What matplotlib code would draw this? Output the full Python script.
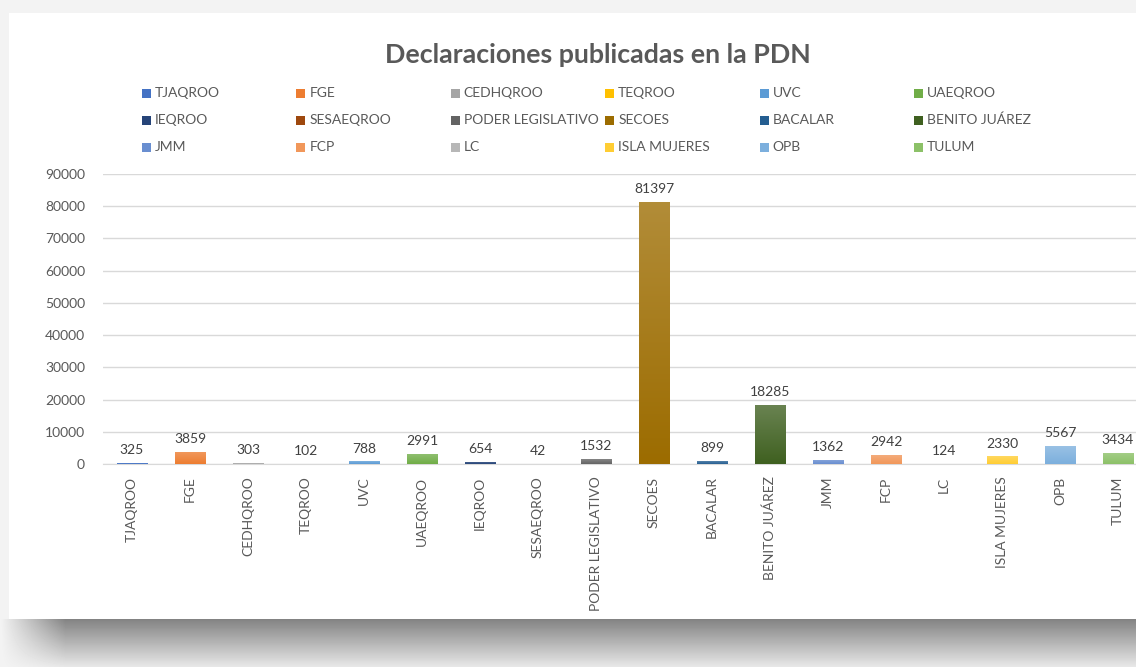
import matplotlib
matplotlib.use("Agg")
import matplotlib.pyplot as plt
import numpy as np
from matplotlib.patches import Rectangle
from matplotlib.colors import to_rgb

plt.rcParams['font.family'] = ['Lato', 'DejaVu Sans']

categories = ["TJAQROO", "FGE", "CEDHQROO", "TEQROO", "UVC", "UAEQROO",
              "IEQROO", "SESAEQROO", "PODER LEGISLATIVO", "SECOES", "BACALAR",
              "BENITO JUÁREZ", "JMM", "FCP", "LC", "ISLA MUJERES", "OPB", "TULUM"]
values = [325, 3859, 303, 102, 788, 2991, 654, 42, 1532, 81397, 899,
          18285, 1362, 2942, 124, 2330, 5567, 3434]
colors = ["#4472C4", "#ED7D31", "#A5A5A5", "#FFC000", "#5B9BD5", "#70AD47",
          "#264478", "#9E480E", "#636363", "#9C6C00", "#255E91", "#3F6020",
          "#698ED0", "#F1975A", "#B7B7B7", "#FFCD33", "#7CAFDD", "#8CC168"]
yticks = [0, 10000, 20000, 30000, 40000, 50000, 60000, 70000, 80000, 90000]
title = "Declaraciones publicadas en la PDN"

W, H = 1136, 667
fig = plt.figure(figsize=(W / 100, H / 100), dpi=100)
fig.patch.set_facecolor("#f3f3f3")

def fx(x):
    return x / W

def fy(y):
    return 1 - y / H

# bottom shadow band (vertical fade times a horizontal fade at the left)
sh = fig.add_axes([0, 0, 1, fy(619)])
sh.set_zorder(-2)
ny, nx = 48, W
tv = np.linspace(0.44, 0.05, ny).reshape(-1, 1)
sx = np.clip(np.arange(nx) / 65.0, 0, 1).reshape(1, -1)
dark = tv * sx
img = 0.955 - dark
sh.imshow(img, aspect='auto', cmap='gray', vmin=0, vmax=1,
          extent=[0, 1, 0, 1], origin='upper', interpolation='nearest')
sh.set_axis_off()

# white card
fig.patches.append(Rectangle((fx(9), fy(619)), 1.0, fy(13) - fy(619),
                             transform=fig.transFigure, facecolor="white",
                             edgecolor="none", zorder=-1))

ax = fig.add_axes([fx(103), fy(464), fx(1147) - fx(103), fy(174) - fy(464)])
ax.set_zorder(1)
ax.set_facecolor("none")
x = np.arange(len(categories))
bars = ax.bar(x, values, width=0.52, color=colors, zorder=3)

# vertical gradient fill on each bar (lighter at top)
for b, c in zip(bars, colors):
    base = np.array(to_rgb(c))
    top = base + (1 - base) * 0.22
    t = np.linspace(0, 1, 64).reshape(-1, 1, 1)
    grad = top * (1 - t) + base * t
    im = ax.imshow(grad, extent=[b.get_x(), b.get_x() + b.get_width(),
                                 0, b.get_height()],
                   aspect='auto', origin='upper', zorder=3.5,
                   interpolation='bilinear')
    im.set_clip_path(b)

ax.bar_label(bars, labels=[str(v) for v in values], padding=5,
             fontsize=10, color="#404040")
ax.set_xlim(-0.5, len(categories) - 0.5)
ax.set_ylim(0, 90000)
ax.set_aspect('auto')
ax.set_yticks(yticks)
ax.set_yticklabels([str(t) for t in yticks])
ax.yaxis.grid(True, color="#d9d9d9", lw=1, zorder=0)
ax.set_axisbelow(True)
for s in ["top", "right", "left"]:
    ax.spines[s].set_visible(False)
ax.spines["bottom"].set_color("#d9d9d9")
ax.set_xticks(x)
ax.set_xticklabels(categories, rotation=90, va="top", ha="center")
ax.tick_params(axis="x", length=0, pad=9, labelsize=10, labelcolor="#595959")
ax.tick_params(axis="y", length=0, pad=13, labelsize=10, labelcolor="#595959")

fig.text(fx(598), fy(55), title, ha="center", va="center",
         fontsize=19.3, fontweight="bold", color="#595959")

# legend, row-major, 6 columns
ncol = 6
for i, (name, c) in enumerate(zip(categories, colors)):
    r, col = divmod(i, ncol)
    lx = 142 + 154.4 * col
    ly = [93, 120, 147][r]
    fig.patches.append(Rectangle((fx(lx), fy(ly + 4.5)), fx(9), 9 / H,
                                 transform=fig.transFigure, facecolor=c,
                                 edgecolor="none", zorder=2))
    fig.text(fx(lx + 13), fy(ly), name, ha="left", va="center",
             fontsize=10, color="#595959")

fig.savefig("out.png", dpi=100, facecolor=fig.get_facecolor())
